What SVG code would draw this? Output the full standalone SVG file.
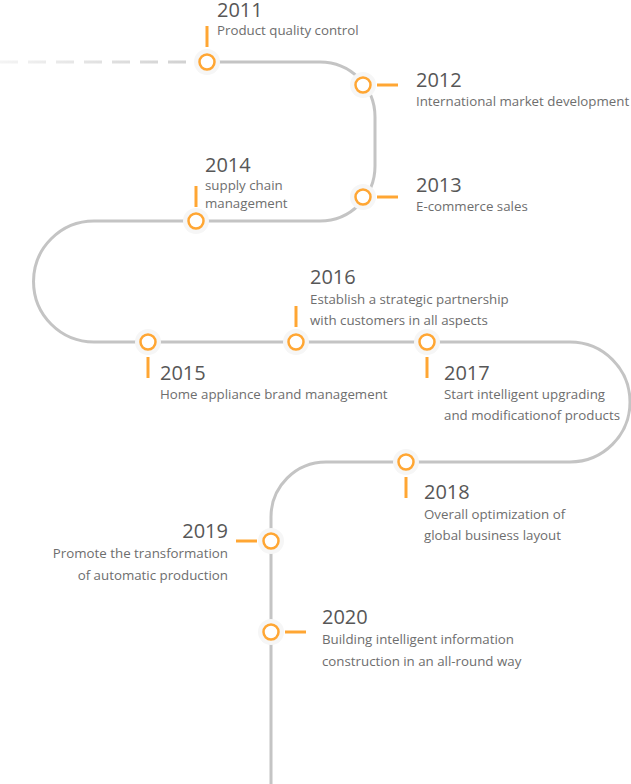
<svg xmlns="http://www.w3.org/2000/svg" width="631" height="784" viewBox="0 0 631 784">
<defs>
<linearGradient id="fade" gradientUnits="userSpaceOnUse" x1="0" y1="62" x2="200" y2="62">
<stop offset="0" stop-color="#f4f4f4"/>
<stop offset="1" stop-color="#cfcfcf"/>
</linearGradient>
<style>
.track{fill:none;stroke:#c4c4c4;stroke-width:3}
.dash{fill:none;stroke:url(#fade);stroke-width:3;stroke-dasharray:18 10}
.halo{fill:#f6f6f6}
.dot{fill:#fff;stroke:#ffa633;stroke-width:2.5}
.tick{stroke:#ffa633;stroke-width:3;fill:none}
.yr{font-family:"Open Sans","Noto Sans",sans-serif;font-size:20px;fill:#575757}
.tx{font-family:"Open Sans","Noto Sans",sans-serif;font-size:13.3px;fill:#6e6e6e}
.r{text-anchor:end}
</style>
</defs>
<g id="connectors">
<line class="dash" x1="0" y1="62" x2="200" y2="62"/>
<path class="track" d="M 207 62 H 320 A 55 55 0 0 1 375 117 V 166 A 55 55 0 0 1 320 221 H 94 A 60.5 60.5 0 0 0 94 342 H 570 A 60 60 0 0 1 570 462 H 326 A 55 55 0 0 0 271 517 V 784"/>
</g>
<g id="m2011">
<circle class="halo" cx="207" cy="62" r="13"/><circle class="dot" cx="207" cy="62" r="7.5"/>
<line class="tick" x1="207" y1="26" x2="207" y2="47"/>
<text class="yr" x="217" y="17">2011</text>
<text class="tx" x="217" y="35">Product quality control</text>
</g>
<g id="m2012">
<circle class="halo" cx="363" cy="85" r="13"/><circle class="dot" cx="363" cy="85" r="7.5"/>
<line class="tick" x1="377" y1="85" x2="398" y2="85"/>
<text class="yr" x="416" y="87">2012</text>
<text class="tx" x="416" y="106">International market development</text>
</g>
<g id="m2013">
<circle class="halo" cx="363" cy="197" r="13"/><circle class="dot" cx="363" cy="197" r="7.5"/>
<line class="tick" x1="377" y1="197" x2="398" y2="197"/>
<text class="yr" x="416" y="192">2013</text>
<text class="tx" x="416" y="211">E-commerce sales</text>
</g>
<g id="m2014">
<circle class="halo" cx="196" cy="221" r="13"/><circle class="dot" cx="196" cy="221" r="7.5"/>
<line class="tick" x1="196" y1="186" x2="196" y2="207"/>
<text class="yr" x="205" y="172">2014</text>
<text class="tx" x="205" y="190">supply chain</text>
<text class="tx" x="205" y="208">management</text>
</g>
<g id="m2015">
<circle class="halo" cx="148" cy="342" r="13"/><circle class="dot" cx="148" cy="342" r="7.5"/>
<line class="tick" x1="148" y1="357" x2="148" y2="378"/>
<text class="yr" x="160" y="380">2015</text>
<text class="tx" x="160" y="399">Home appliance brand management</text>
</g>
<g id="m2016">
<circle class="halo" cx="296" cy="342" r="13"/><circle class="dot" cx="296" cy="342" r="7.5"/>
<line class="tick" x1="296" y1="306" x2="296" y2="327"/>
<text class="yr" x="310" y="284">2016</text>
<text class="tx" x="310" y="304">Establish a strategic partnership</text>
<text class="tx" x="310" y="325">with customers in all aspects</text>
</g>
<g id="m2017">
<circle class="halo" cx="427" cy="342" r="13"/><circle class="dot" cx="427" cy="342" r="7.5"/>
<line class="tick" x1="427" y1="357" x2="427" y2="378"/>
<text class="yr" x="444" y="380">2017</text>
<text class="tx" x="444" y="399">Start intelligent upgrading</text>
<text class="tx" x="444" y="420">and modificationof products</text>
</g>
<g id="m2018">
<circle class="halo" cx="406" cy="462" r="13"/><circle class="dot" cx="406" cy="462" r="7.5"/>
<line class="tick" x1="406" y1="477" x2="406" y2="498"/>
<text class="yr" x="424" y="499">2018</text>
<text class="tx" x="424" y="519">Overall optimization of</text>
<text class="tx" x="424" y="540">global business layout</text>
</g>
<g id="m2019">
<circle class="halo" cx="271" cy="541" r="13"/><circle class="dot" cx="271" cy="541" r="7.5"/>
<line class="tick" x1="236" y1="541" x2="257" y2="541"/>
<text class="yr r" x="228" y="538">2019</text>
<text class="tx r" x="228" y="558">Promote the transformation</text>
<text class="tx r" x="228" y="580">of automatic production</text>
</g>
<g id="m2020">
<circle class="halo" cx="271" cy="632" r="13"/><circle class="dot" cx="271" cy="632" r="7.5"/>
<line class="tick" x1="285" y1="632" x2="306" y2="632"/>
<text class="yr" x="322" y="624">2020</text>
<text class="tx" x="322" y="644">Building intelligent information</text>
<text class="tx" x="322" y="666">construction in an all-round way</text>
</g>
</svg>
